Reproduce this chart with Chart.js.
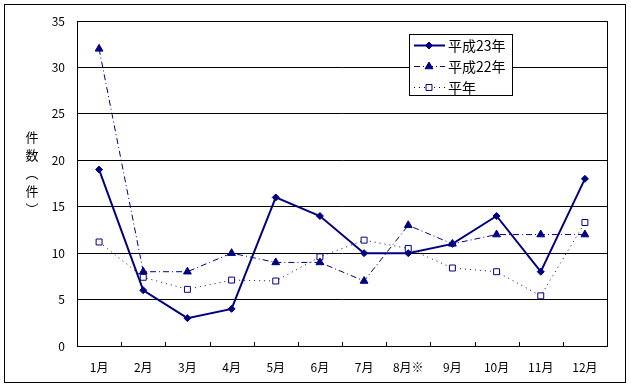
<!DOCTYPE html>
<html>
<head>
<meta charset="utf-8">
<script src="https://cdn.jsdelivr.net/npm/chart.js@4"></script>
<style>
  html, body { margin: 0; padding: 0; background: #fff; }
  #wrap { width: 631px; height: 386px; position: relative; }
</style>
</head>
<body>
<div id="wrap"><canvas id="chart" width="631" height="386"></canvas></div>
<script>
const months = ["1月", "2月", "3月", "4月", "5月", "6月", "7月", "8月※", "9月", "10月", "11月", "12月"];
const h23 = [19, 6, 3, 4, 16, 14, 10, 10, 11, 14, 8, 18];
const h22 = [32, 8, 8, 10, 9, 9, 7, 13, 11, 12, 12, 12];
const normal = [11.2, 7.4, 6.1, 7.1, 7.0, 9.6, 11.4, 10.5, 8.4, 8.0, 5.4, 13.3];
const yTicks = [0, 5, 10, 15, 20, 25, 30, 35];
const yTitle = ["件", "数", "︵", "件", "︶"];

const navy = "#000080";
const font = "'Noto Sans CJK JP', 'Noto Sans', sans-serif";

// frame, plot border, inside ticks, vertical title, legend
const decorPlugin = {
    id: "decor",
    afterDraw(chart) {
        const ctx = chart.ctx;
        const area = chart.chartArea;
        const xs = chart.scales.x;
        ctx.save();
        ctx.strokeStyle = "#000";
        ctx.lineWidth = 1;
        ctx.strokeRect(4.5, 4.5, 621, 378);
        ctx.strokeRect(Math.round(area.left) + 0.5, Math.round(area.top) + 0.5,
            Math.round(area.right - area.left), Math.round(area.bottom - area.top));

        // inside tick marks on category boundaries
        const step = (area.right - area.left) / months.length;
        ctx.beginPath();
        for (let i = 1; i < months.length; i++) {
            const px = Math.round(xs.getPixelForValue(i) - step / 2) + 0.5;
            ctx.moveTo(px, area.bottom);
            ctx.lineTo(px, area.bottom - 4);
        }
        ctx.stroke();

        // vertical axis title
        ctx.fillStyle = "#000";
        ctx.font = "13px " + font;
        ctx.textAlign = "center";
        ctx.textBaseline = "middle";
        yTitle.forEach((ch, i) => ctx.fillText(ch, 32, 137 + i * 18));

        // legend
        const lx = 409, ly = 34, lw = 103, lh = 61;
        ctx.fillStyle = "#fff";
        ctx.fillRect(lx, ly, lw, lh);
        ctx.strokeStyle = "#000";
        ctx.strokeRect(lx + 0.5, ly + 0.5, lw, lh);
        const rows = [45, 66, 87];
        chart.data.datasets.forEach((ds, i) => {
            const y = rows[i] + 0.5;
            ctx.save();
            ctx.strokeStyle = ds.borderColor;
            ctx.lineWidth = ds.borderWidth;
            ctx.setLineDash(ds.borderDash || []);
            ctx.beginPath();
            ctx.moveTo(414, y);
            ctx.lineTo(445, y);
            ctx.stroke();
            ctx.setLineDash([]);
            ctx.fillStyle = ds.pointBackgroundColor;
            ctx.strokeStyle = ds.pointBorderColor;
            ctx.lineWidth = 1;
            Chart.helpers.drawPoint(ctx, {
                pointStyle: ds.pointStyle,
                radius: ds.pointRadius,
                borderWidth: 1
            }, 429, y);
            ctx.restore();
            ctx.fillStyle = "#000";
            ctx.font = "14px " + font;
            ctx.textAlign = "left";
            ctx.fillText(ds.label, 448, rows[i] + 1);
        });
        ctx.restore();
    }
};

new Chart(document.getElementById("chart"), {
    type: "line",
    data: {
        labels: months,
        datasets: [
            {
                label: "平成23年",
                data: h23,
                borderColor: navy,
                borderWidth: 2,
                pointStyle: "rectRot",
                pointRadius: 3.5,
                pointBackgroundColor: navy,
                pointBorderColor: navy,
                pointBorderWidth: 1
            },
            {
                label: "平成22年",
                data: h22,
                borderColor: navy,
                borderWidth: 1,
                borderDash: [6, 3, 1, 3],
                pointStyle: "triangle",
                pointRadius: 4.5,
                pointBackgroundColor: navy,
                pointBorderColor: navy,
                pointBorderWidth: 1
            },
            {
                label: "平年",
                data: normal,
                borderColor: navy,
                borderWidth: 1,
                borderDash: [1, 4],
                pointStyle: "rect",
                pointRadius: 4.2,
                pointBackgroundColor: "#fff",
                pointBorderColor: navy,
                pointBorderWidth: 1
            }
        ]
    },
    options: {
        responsive: false,
        animation: false,
        layout: { padding: { left: 0, right: 24, top: 21, bottom: 0 } },
        plugins: {
            legend: { display: false },
            tooltip: { enabled: false }
        },
        scales: {
            x: {
                offset: true,
                grid: { display: false },
                border: { display: true, color: "#000", width: 1 },
                ticks: {
                    color: "#000",
                    font: { family: font, size: 12 },
                    padding: 6,
                    maxRotation: 0,
                    autoSkip: false
                },
                afterFit(s) { s.height = 40; }
            },
            y: {
                min: 0,
                max: 35,
                afterBuildTicks(s) { s.ticks = yTicks.map(v => ({ value: v })); },
                grid: { color: "#000", lineWidth: 1, drawTicks: false },
                border: { display: true, color: "#000", width: 1 },
                ticks: {
                    color: "#000",
                    font: { family: font, size: 12 },
                    padding: 12
                },
                afterFit(s) { s.width = 77; }
            }
        }
    },
    plugins: [decorPlugin]
});
</script>
</body>
</html>
